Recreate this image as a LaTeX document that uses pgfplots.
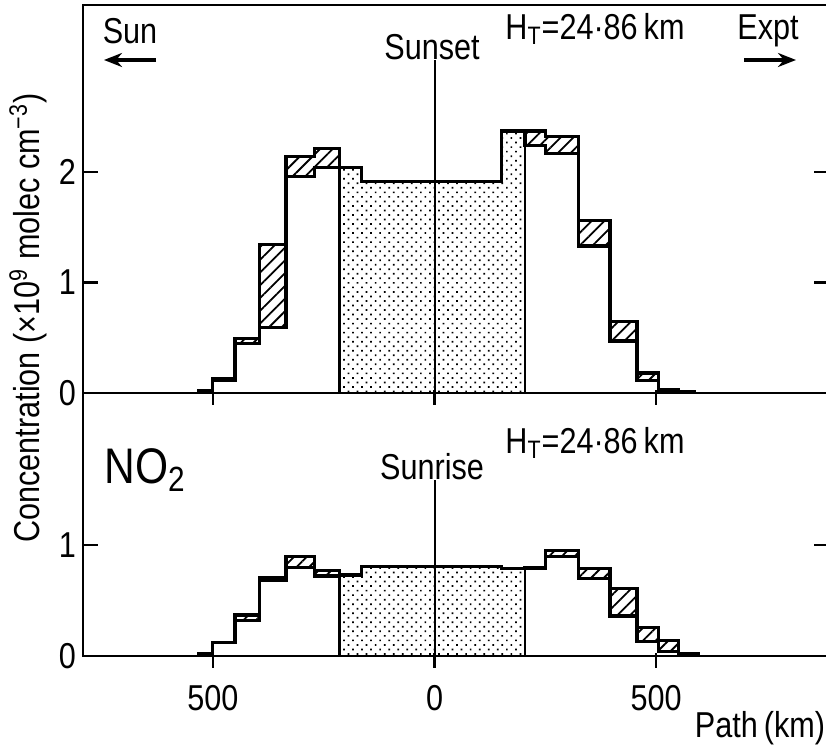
\documentclass[border=0pt]{standalone}
\usepackage{fontspec}
\setmainfont{Liberation Sans}[FakeStretch=0.85]
\usepackage{pgfplots}
\usepackage{pgfplotstable}
\pgfplotsset{compat=1.18}
\usetikzlibrary{patterns.meta,arrows.meta}

% Sunset panel: bin left edges, lower and upper histogram values
\pgfplotstableread{
x lo hi
-535 0.015 0.025
-500 0.11 0.13
-450 0.45 0.49
-395 0.59 1.34
-335 1.96 2.14
-270 2.04 2.21
-215 2.04 2.04
-165 1.91 1.91
152 2.37 2.37
204 2.24 2.37
250 2.17 2.32
324 1.33 1.56
396 0.47 0.65
457 0.11 0.18
505 0.01 0.03
550 0.005 0.01
590 0.005 0.01
}\sunsetdata
\pgfplotstableread{
x y
-215 2.04
-165 1.91
152 2.37
204 2.37
}\sunsetcore

% Sunrise panel
\pgfplotstableread{
x lo hi
-535 0.01 0.02
-500 0.12 0.12
-450 0.32 0.37
-395 0.68 0.71
-335 0.80 0.90
-270 0.72 0.77
-215 0.73 0.73
-165 0.81 0.81
152 0.79 0.79
204 0.79 0.80
250 0.90 0.95
324 0.70 0.79
396 0.36 0.61
457 0.13 0.26
505 0.04 0.14
550 0.01 0.02
600 0.01 0.02
}\sunrisedata
\pgfplotstableread{
x y
-215 0.73
-165 0.81
152 0.79
204 0.79
}\sunrisecore

\pgfplotsset{
  panel/.style={
    scale only axis, anchor=south west,
    width=373pt, xmin=-793, xmax=890, ymin=0,
    axis on top,
    axis line style={line width=1.3pt},
    every tick/.style={line width=1.3pt, black},
    major tick length=7.5pt, tick align=inside,
    xtick={-500,0,500}, xtick pos=left,
    xtick style={yshift=-6pt},
  },
  hist/.style={const plot, line width=1.6pt, black},
  hatch/.style={const plot, draw=none, pattern={Lines[angle=45,distance=4.5pt,line width=0.9pt]}},
  blank/.style={const plot, draw=none, fill=white},
  dotted core/.style={const plot, draw=black, line width=1.3pt,
    pattern={Dots[angle=45,distance=3.2pt,radius=0.6pt]}},
}

\begin{document}
\begin{tikzpicture}[font=\fontsize{18}{21}\selectfont]
\useasboundingbox (0pt,0pt) rectangle (413pt,374.5pt);

% ---------------- Sunset (top) ----------------
\begin{axis}[panel, at={(41.5pt,178pt)}, height=194pt, ymax=3.51,
  ytick={0,1,2}, yticklabels={0,1,2}, xticklabels={}]
  \addplot[hatch] table[x=x,y=hi]{\sunsetdata} \closedcycle;
  \addplot[blank] table[x=x,y=lo]{\sunsetdata} \closedcycle;
  \addplot[dotted core] table[x=x,y=y]{\sunsetcore} \closedcycle;
  \addplot[hist] table[x=x,y=lo]{\sunsetdata};
  \addplot[hist] table[x=x,y=hi]{\sunsetdata};
  \addplot[line width=1pt, black] coordinates {(0,0) (0,3.01)};
\end{axis}

% ---------------- Sunrise (bottom) ----------------
\begin{axis}[panel, at={(41.5pt,46.5pt)}, height=131.5pt, ymax=2.37,
  ytick={0,1}, yticklabels={0,1}, xticklabels={500,0,500},
  xticklabel style={yshift=-11pt}]
  \addplot[hatch] table[x=x,y=hi]{\sunrisedata} \closedcycle;
  \addplot[blank] table[x=x,y=lo]{\sunrisedata} \closedcycle;
  \addplot[dotted core] table[x=x,y=y]{\sunrisecore} \closedcycle;
  \addplot[hist] table[x=x,y=lo]{\sunrisedata};
  \addplot[hist] table[x=x,y=hi]{\sunrisedata};
  \addplot[line width=1pt, black] coordinates {(0,0) (0,1.59)};
\end{axis}

% ---------------- annotations ----------------
\node at (65pt,359pt) {Sun};
\draw[line width=2pt, -{Stealth[length=9pt,width=7pt]}] (78pt,344.5pt) -- (52pt,344.5pt);
\node at (384pt,359pt) {Expt};
\draw[line width=2pt, -{Stealth[length=9pt,width=7pt]}] (372pt,344.5pt) -- (398pt,344.5pt);
\node at (297.5pt,360pt) {H\textsubscript{T}=24·86\,km};
\node at (216pt,351pt) {Sunset};
\node at (297.5pt,153pt) {H\textsubscript{T}=24·86\,km};
\node at (216pt,141pt) {Sunrise};
\node[font=\fontsize{25}{28}\selectfont] at (72.5pt,139.5pt) {NO\textsubscript{2}};
\node at (380pt,10.5pt) {Path\,(km)};
\node[rotate=90] at (14pt,215.5pt) {Concentration (×10\textsuperscript{9} molec cm\textsuperscript{−3})};
\end{tikzpicture}
\end{document}
